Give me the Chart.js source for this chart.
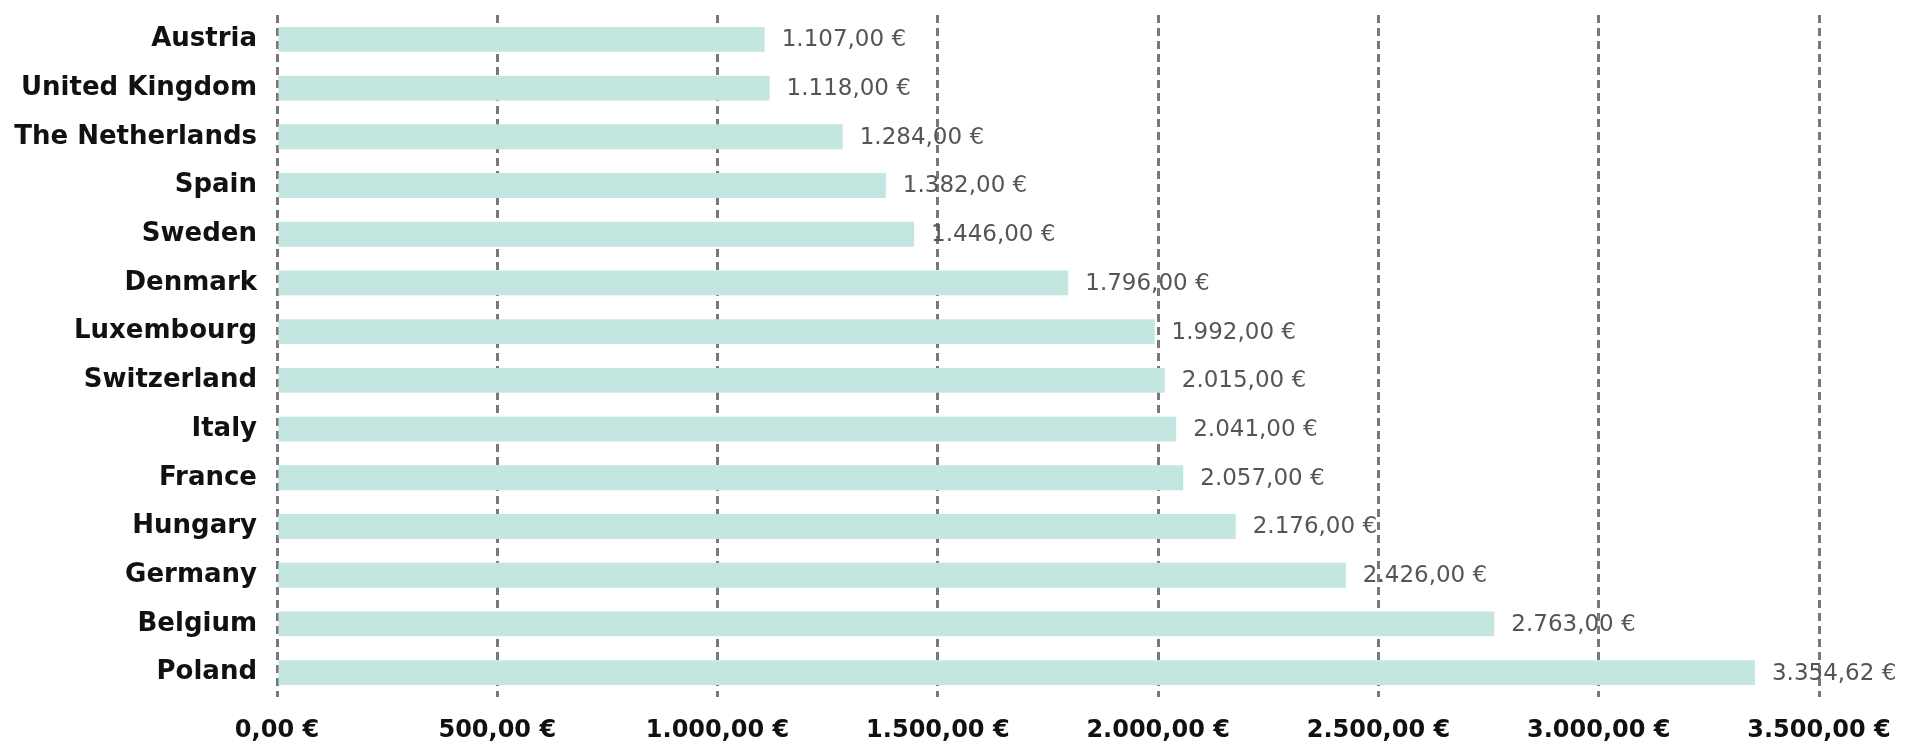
<!DOCTYPE html>
<html lang="en">

<head>
    <meta charset="UTF-8">
    <title>Salaries by country</title>
    <script src="https://cdn.jsdelivr.net/npm/chart.js"></script>
    <style>
        body { margin: 0; background: #fff; }
        .box { width: 1914px; height: 742px; }
    </style>
</head>

<body>
    <div class="box"><canvas id="grafico"></canvas></div>

<script>
    // data
    var paises = ["Austria", "United Kingdom", "The Netherlands", "Spain", "Sweden", "Denmark", "Luxembourg",
        "Switzerland", "Italy", "France", "Hungary", "Germany", "Belgium", "Poland"];
    var valores = [1107, 1118, 1284, 1382, 1446, 1796, 1992, 2015, 2041, 2057, 2176, 2426, 2763, 3354.62];
    var eixoMin = 0;
    var eixoMax = 3500;
    var passo = 500;

    var nf = new Intl.NumberFormat('de-DE', { minimumFractionDigits: 2, maximumFractionDigits: 2 });
    function euro(v) {
        return nf.format(v) + ' €';
    }

    // value text at the end of each bar
    const rotulos = {
        id: 'rotulos',
        afterDatasetsDraw(chart) {
            const ctx = chart.ctx;
            const meta = chart.getDatasetMeta(0);
            ctx.save();
            ctx.font = '23px "DejaVu Sans"';
            ctx.fillStyle = '#555555';
            ctx.textAlign = 'left';
            ctx.textBaseline = 'middle';
            meta.data.forEach(function (barra, i) {
                ctx.fillText(euro(valores[i]), barra.x + 17, barra.y + 1);
            });
            ctx.restore();
        }
    };

    new Chart(document.getElementById("grafico"), {
        type: "bar",
        data: {
            labels: paises,
            datasets: [{
                data: valores,
                backgroundColor: '#c3e6e1',
                borderWidth: 0,
                barPercentage: 0.51,
                categoryPercentage: 1,
            }],
        },
        options: {
            indexAxis: 'y',
            responsive: true,
            maintainAspectRatio: false,
            animation: false,
            layout: { padding: { top: 15, right: 95, bottom: 0, left: 0 } },
            plugins: {
                legend: { display: false },
                tooltip: { enabled: false },
            },
            scales: {
                x: {
                    min: eixoMin,
                    max: eixoMax,
                    border: { display: false, dash: [8, 5] },
                    grid: { color: '#787878', lineWidth: 3, drawTicks: false },
                    afterFit: function (s) { s.height = 45; },
                    ticks: {
                        stepSize: passo,
                        padding: 19,
                        color: '#111111',
                        font: { family: 'DejaVu Sans', size: 24, weight: 'bold' },
                        callback: function (v) { return euro(v); },
                    },
                },
                y: {
                    border: { display: false },
                    grid: { display: false, drawTicks: false },
                    afterFit: function (s) {
                        s.width = 277;
                        s.paddingTop = 0;
                        s.paddingBottom = 0;
                    },
                    ticks: {
                        padding: 20,
                        color: '#111111',
                        font: { family: 'DejaVu Sans', size: 26, weight: 'bold' },
                    },
                },
            },
        },
        plugins: [rotulos],
    });
</script>
</body>

</html>
